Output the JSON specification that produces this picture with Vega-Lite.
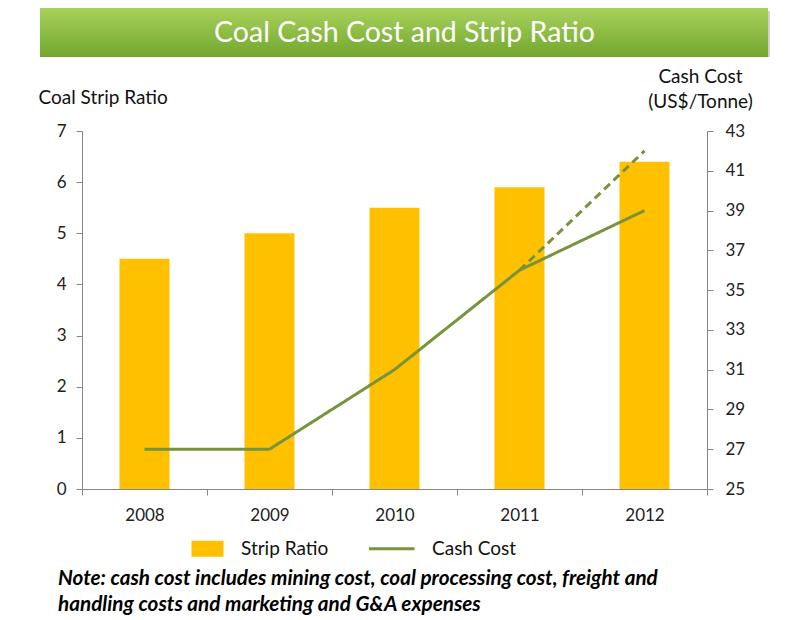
{
  "$schema": "https://vega.github.io/schema/vega-lite/v6.json",
  "background": "white",
  "padding": {"left": 38, "top": 8, "right": 5, "bottom": 5},
  "config": {"font": "Lato", "view": {"stroke": null}},
  "title": {
    "text": ["Note: cash cost includes mining cost, coal processing cost, freight and", "handling costs and marketing and G&A expenses"],
    "orient": "bottom", "anchor": "start", "font": "Lato", "fontSize": 20.7, "fontStyle": "italic", "fontWeight": "bold",
    "color": "black", "lineHeight": 26, "dx": 20, "offset": 10
  },
  "datasets": {
    "header": [{"title": "Coal Cash Cost and Strip Ratio", "start": 0, "end": 1, "middle": 0.5}],
    "bars": [
      {"year": "2008", "ratio": 4.5, "series": "Strip Ratio"},
      {"year": "2009", "ratio": 5.0, "series": "Strip Ratio"},
      {"year": "2010", "ratio": 5.5, "series": "Strip Ratio"},
      {"year": "2011", "ratio": 5.9, "series": "Strip Ratio"},
      {"year": "2012", "ratio": 6.4, "series": "Strip Ratio"}
    ],
    "cost": [
      {"year": "2008", "cost": 27, "series": "Cash Cost", "style": "actual"},
      {"year": "2009", "cost": 27, "series": "Cash Cost", "style": "actual"},
      {"year": "2010", "cost": 31, "series": "Cash Cost", "style": "actual"},
      {"year": "2011", "cost": 36, "series": "Cash Cost", "style": "actual"},
      {"year": "2012", "cost": 39, "series": "Cash Cost", "style": "actual"},
      {"year": "2011", "cost": 36, "series": "Cash Cost", "style": "projected"},
      {"year": "2012", "cost": 42, "series": "Cash Cost", "style": "projected"}
    ]
  },
  "spacing": 10,
  "vconcat": [
    {
      "width": 625,
      "height": 49,
      "data": {"name": "header"},
      "layer": [
        {"mark": {"type": "rect", "fill": "#8a8a8a", "opacity": 0.4, "xOffset": -40, "x2Offset": 63, "yOffset": 3, "y2Offset": 3},
         "encoding": {"x": {"field": "start", "type": "quantitative", "scale": {"domain": [0, 1], "nice": false, "zero": false}, "axis": null}, "x2": {"field": "end"}}},
        {"mark": {"type": "rect", "fill": {"gradient": "linear", "x1": 0, "y1": 0, "x2": 0, "y2": 1, "stops": [{"offset": 0, "color": "#a8d25c"}, {"offset": 1, "color": "#72a72f"}]}, "xOffset": -42, "x2Offset": 61},
         "encoding": {"x": {"field": "start", "type": "quantitative", "scale": {"domain": [0, 1], "nice": false, "zero": false}, "axis": null}, "x2": {"field": "end"}}},
        {"mark": {"type": "text", "color": "white", "fontSize": 28.5, "font": "Lato", "dx": 10},
         "encoding": {"x": {"field": "middle", "type": "quantitative", "axis": null}, "text": {"field": "title"}}}
      ]
    },
    {
      "width": 625,
      "height": 358,
      "layer": [
        {
          "data": {"name": "bars"},
          "mark": {"type": "bar", "size": 50},
          "encoding": {
            "x": {"field": "year", "type": "ordinal", "scale": {"paddingInner": 0, "paddingOuter": 0},
              "axis": {"title": null, "labelAngle": 0, "tickBand": "extent", "domainColor": "#868686", "tickColor": "#868686", "tickSize": 6, "labelFontSize": 17, "labelColor": "#222222", "labelPadding": 12, "grid": false}},
            "y": {"field": "ratio", "type": "quantitative", "scale": {"domain": [0, 7], "nice": false},
              "axis": {"title": "Coal Strip Ratio", "titleAngle": 0, "titleAlign": "left", "titleBaseline": "middle", "titleX": -44, "titleY": -34, "titleFontSize": 19, "titleFontWeight": "normal", "titleColor": "#111111", "values": [0, 1, 2, 3, 4, 5, 6, 7], "grid": false, "tickSize": 6, "labelPadding": 10, "labelFontSize": 17, "labelColor": "#222222", "domainColor": "#868686", "tickColor": "#868686"}},
            "color": {"field": "series", "type": "nominal",
              "scale": {"domain": ["Strip Ratio", "Cash Cost"], "range": ["#FFC000", "#77933C"]},
              "legend": {
                "orient": "none", "legendX": 116, "legendY": 531, "direction": "horizontal", "title": null,
                "symbolSize": 1024, "labelFontSize": 19, "labelColor": "#111111", "labelOffset": 24, "columnPadding": 33,
                "encode": {"symbols": {"update": {
                  "shape": {"signal": "datum.value === 'Cash Cost' ? 'M-1.85,0H1' : 'M-1,-0.5H1V0.5H-1Z'"},
                  "fill": {"signal": "datum.value === 'Cash Cost' ? 'transparent' : '#FFC000'"},
                  "stroke": {"signal": "datum.value === 'Cash Cost' ? '#77933C' : '#FFC000'"},
                  "strokeWidth": {"signal": "datum.value === 'Cash Cost' ? 3 : 0"}
                }}}
              }}
          }
        },
        {
          "data": {"name": "cost"},
          "mark": {"type": "line", "strokeWidth": 3},
          "encoding": {
            "x": {"field": "year", "type": "ordinal"},
            "y": {"field": "cost", "type": "quantitative", "scale": {"domain": [25, 43], "nice": false, "zero": false},
              "axis": {"orient": "right", "title": ["Cash Cost", "(US$/Tonne)"], "titleAngle": 0, "titleAlign": "center", "titleBaseline": "middle", "titleX": -7, "titleY": -55, "titleLineHeight": 25, "titleFontSize": 19, "titleFontWeight": "normal", "titleColor": "#111111", "values": [25, 27, 29, 31, 33, 35, 37, 39, 41, 43], "labelOverlap": false, "grid": false, "tickSize": 6, "labelPadding": 12, "labelFontSize": 17, "labelColor": "#222222", "domainColor": "#868686", "tickColor": "#868686"}},
            "color": {"field": "series", "type": "nominal"},
            "strokeDash": {"field": "style", "type": "nominal", "scale": {"domain": ["actual", "projected"], "range": [[1, 0], [8, 5]]}, "legend": null}
          }
        }
      ],
      "resolve": {"scale": {"y": "independent"}}
    }
  ]
}
